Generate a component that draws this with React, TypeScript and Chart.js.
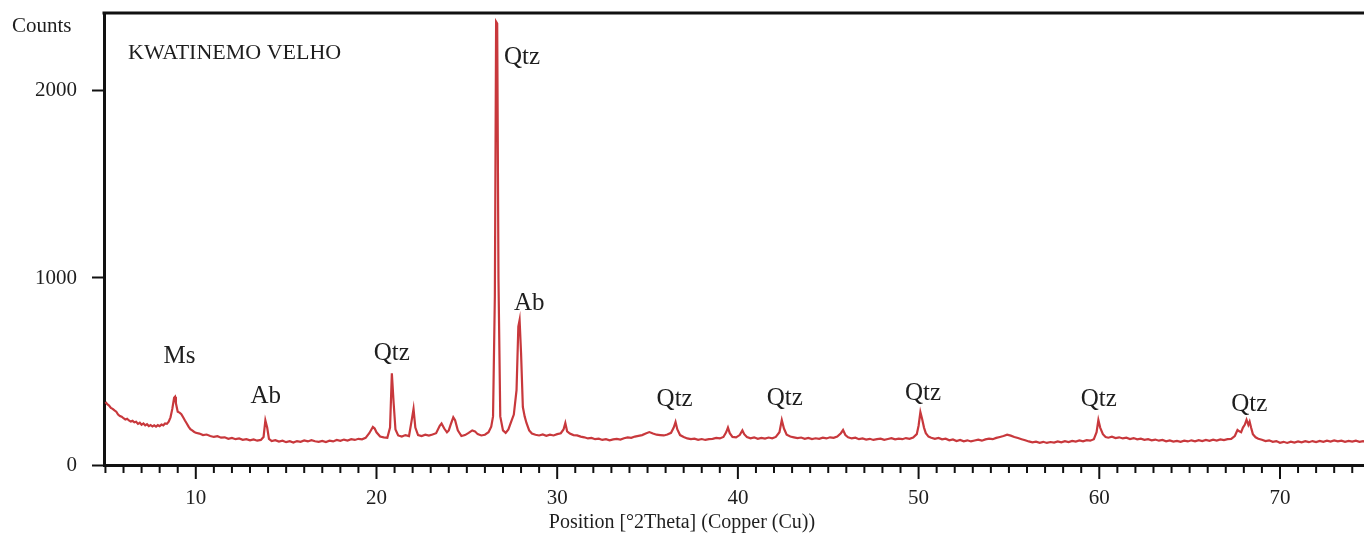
import React, { useEffect, useRef } from "react";
import { Chart, registerables } from "chart.js";

Chart.register(...registerables);

// Diffraction scan: [2Theta (deg), counts]
const scanLow: [number, number][] = [
  [5.0, 337], [5.1, 325], [5.2, 318], [5.3, 305], [5.4, 300], [5.5, 292], [5.6, 285], [5.7, 270], [5.8, 262], [5.9, 258],
  [6.0, 250], [6.1, 243], [6.2, 247], [6.3, 238], [6.4, 232], [6.5, 236], [6.6, 228], [6.7, 231], [6.8, 220], [6.9, 226],
  [7.0, 215], [7.1, 222], [7.2, 212], [7.3, 218], [7.4, 208], [7.5, 214], [7.6, 206], [7.7, 212], [7.8, 205], [7.9, 213],
  [8.0, 208], [8.1, 216], [8.2, 212], [8.3, 222], [8.4, 220], [8.5, 232], [8.6, 255], [8.7, 300], [8.8, 360], [8.85, 365],
  [8.9, 330], [9.0, 285], [9.1, 280], [9.2, 272], [9.3, 255], [9.4, 238], [9.5, 222], [9.6, 205], [9.7, 192], [9.8, 185],
  [9.9, 178], [10.0, 172], [10.2, 168], [10.4, 160], [10.6, 163], [10.8, 155], [11.0, 150], [11.2, 154], [11.4, 146],
  [11.6, 148], [11.8, 140], [12.0, 145], [12.2, 138], [12.4, 142], [12.6, 135], [12.8, 138], [13.0, 132], [13.2, 137],
  [13.4, 130], [13.6, 134], [13.75, 150], [13.85, 238], [13.95, 200], [14.05, 140], [14.2, 128], [14.4, 133], [14.6, 125],
  [14.8, 130], [15.0, 122], [15.2, 127], [15.4, 120], [15.6, 128], [15.8, 124], [16.0, 131], [16.2, 126], [16.4, 133],
  [16.6, 127], [16.8, 124], [17.0, 129], [17.2, 123], [17.4, 130], [17.6, 126], [17.8, 134], [18.0, 129], [18.2, 136],
  [18.4, 131], [18.6, 138], [18.8, 134], [19.0, 140], [19.2, 137], [19.4, 145], [19.6, 170], [19.8, 203], [19.9, 195],
];

const scanMid: [number, number][] = [
  [20.0, 175], [20.2, 152], [20.4, 148], [20.6, 145], [20.75, 200], [20.85, 490], [20.95, 330], [21.05, 190], [21.2, 158],
  [21.4, 152], [21.6, 160], [21.8, 155], [21.95, 240], [22.05, 300], [22.15, 200], [22.3, 160], [22.5, 155], [22.7, 162],
  [22.9, 157], [23.1, 163], [23.3, 170], [23.5, 210], [23.6, 222], [23.75, 195], [23.9, 175], [24.0, 185], [24.1, 215],
  [24.25, 255], [24.35, 240], [24.5, 185], [24.7, 155], [24.9, 160], [25.1, 172], [25.3, 185], [25.45, 180], [25.6, 165],
  [25.8, 158], [26.0, 162], [26.2, 175], [26.35, 205], [26.45, 260], [26.55, 900], [26.62, 2370], [26.68, 2360],
  [26.75, 1000], [26.85, 260], [27.0, 185], [27.15, 172], [27.3, 190], [27.45, 230], [27.6, 270], [27.75, 400],
  [27.85, 740], [27.92, 775], [28.0, 600], [28.1, 310], [28.2, 260], [28.3, 225], [28.45, 185], [28.6, 168], [28.8, 162],
  [29.0, 158], [29.2, 163], [29.4, 156], [29.6, 162], [29.8, 158], [30.0, 165], [30.2, 170], [30.35, 190], [30.45, 224],
  [30.55, 180], [30.7, 168], [30.9, 160], [31.1, 158], [31.3, 152], [31.5, 148], [31.7, 142], [31.9, 145], [32.1, 138],
  [32.3, 141], [32.5, 134], [32.7, 138], [32.9, 132], [33.1, 137], [33.3, 140], [33.5, 136], [33.7, 143], [33.9, 148],
  [34.1, 145], [34.3, 152], [34.5, 156], [34.7, 160], [34.9, 168], [35.1, 176], [35.3, 168], [35.5, 162], [35.7, 160],
  [35.9, 158], [36.1, 163], [36.3, 172], [36.45, 200], [36.55, 230], [36.65, 190], [36.8, 160], [37.0, 150], [37.2, 142],
  [37.4, 138], [37.6, 141], [37.8, 135], [38.0, 139], [38.2, 134], [38.4, 138], [38.6, 140], [38.8, 145], [39.0, 142],
  [39.2, 150], [39.35, 175], [39.45, 200], [39.55, 170], [39.7, 150], [39.9, 148],
];

const scanHigh: [number, number][] = [
  [40.1, 160], [40.25, 185], [40.35, 165], [40.5, 150], [40.7, 143], [40.9, 148], [41.1, 140], [41.3, 145], [41.5, 141],
  [41.7, 147], [41.9, 143], [42.1, 150], [42.3, 175], [42.43, 240], [42.55, 195], [42.7, 162], [42.9, 152], [43.1, 148],
  [43.3, 144], [43.5, 147], [43.7, 140], [43.9, 145], [44.1, 139], [44.3, 143], [44.5, 140], [44.7, 146], [44.9, 142],
  [45.1, 148], [45.3, 145], [45.5, 152], [45.7, 170], [45.82, 187], [45.95, 160], [46.1, 148], [46.3, 142], [46.5, 146],
  [46.7, 138], [46.9, 142], [47.1, 136], [47.3, 140], [47.5, 134], [47.7, 138], [47.9, 141], [48.1, 135], [48.3, 139],
  [48.5, 143], [48.7, 137], [48.9, 141], [49.1, 138], [49.3, 144], [49.5, 140], [49.7, 147], [49.9, 165], [50.0, 210],
  [50.1, 283], [50.2, 245], [50.3, 200], [50.4, 170], [50.55, 152], [50.7, 146], [50.9, 140], [51.1, 145], [51.3, 137],
  [51.5, 141], [51.7, 132], [51.9, 137], [52.1, 128], [52.3, 134], [52.5, 127], [52.7, 132], [52.9, 126], [53.1, 131],
  [53.3, 135], [53.5, 130], [53.7, 137], [53.9, 141], [54.1, 138], [54.3, 145], [54.5, 150], [54.7, 155], [54.9, 162],
  [55.1, 157], [55.3, 150], [55.5, 144], [55.7, 138], [55.9, 132], [56.1, 126], [56.3, 121], [56.5, 125], [56.7, 119],
  [56.9, 124], [57.1, 118], [57.3, 123], [57.5, 120], [57.7, 126], [57.9, 121],
];

const scanTail: [number, number][] = [
  [58.1, 127], [58.3, 123], [58.5, 129], [58.7, 125], [58.9, 131], [59.1, 127], [59.3, 133], [59.5, 130], [59.7, 138],
  [59.85, 175], [59.95, 240], [60.05, 200], [60.2, 165], [60.35, 150], [60.5, 146], [60.7, 151], [60.9, 144], [61.1, 148],
  [61.3, 142], [61.5, 146], [61.7, 139], [61.9, 144], [62.1, 137], [62.3, 141], [62.5, 135], [62.7, 138], [62.9, 132],
  [63.1, 136], [63.3, 130], [63.5, 134], [63.7, 127], [63.9, 131], [64.1, 125], [64.3, 129], [64.5, 124], [64.7, 130],
  [64.9, 126], [65.1, 132], [65.3, 127], [65.5, 133], [65.7, 128], [65.9, 134], [66.1, 129], [66.3, 135], [66.5, 131],
  [66.7, 137], [66.9, 133], [67.1, 138], [67.3, 140], [67.5, 155], [67.65, 187], [67.75, 180], [67.85, 175], [67.95, 200],
  [68.05, 215], [68.15, 242], [68.25, 215], [68.32, 232], [68.4, 200], [68.5, 165], [68.65, 148], [68.8, 140], [69.0, 135],
  [69.2, 128], [69.4, 132], [69.6, 124], [69.8, 128], [70.0, 119], [70.2, 124], [70.4, 118], [70.6, 125], [70.8, 120],
  [71.0, 126], [71.2, 121], [71.4, 127], [71.6, 122], [71.8, 128], [72.0, 123], [72.2, 129], [72.4, 124], [72.6, 130],
  [72.8, 125], [73.0, 131], [73.2, 126], [73.4, 130], [73.6, 124], [73.8, 129], [74.0, 125], [74.2, 130], [74.4, 124],
  [74.6, 128], [74.8, 123],
];

// Phase labels and where they sit (2Theta, counts)
const phaseLabels = ["Ms", "Ab", "Qtz", "Qtz", "Ab", "Qtz", "Qtz", "Qtz", "Qtz", "Qtz"];
const phaseTheta = [9.1, 13.87, 20.85, 28.05, 28.45, 36.5, 42.6, 50.25, 59.97, 68.3];
const phaseCounts = [578, 364, 599, 2180, 866, 348, 358, 382, 352, 325];

const yTicks = [0, 1000, 2000];
const xMin = 4.92;
const xMax = 74.65;
const yMax = 2417;

const sampleName = "KWATINEMO VELHO";
const yAxisName = "Counts";
const xAxisName = "Position [°2Theta] (Copper (Cu))";

const SERIF = "'Liberation Serif', 'Times New Roman', serif";
const INK = "#1e1e1e";

export default function App() {
  const ref = useRef<HTMLCanvasElement | null>(null);

  useEffect(() => {
    document.body.style.margin = "0";
    const canvas = ref.current;
    if (!canvas) return;

    const decorations = {
      id: "decorations",
      afterDraw(chart: any) {
        const { ctx, chartArea, scales } = chart;
        const xs = scales.x;
        const ys = scales.y;
        ctx.save();
        // top frame line
        ctx.strokeStyle = "#111";
        ctx.lineWidth = 3;
        ctx.beginPath();
        ctx.moveTo(chartArea.left - 1.5, chartArea.top);
        ctx.lineTo(chartArea.right, chartArea.top);
        ctx.stroke();
        // x ticks: major every 10, minor every 1
        ctx.lineWidth = 2;
        for (const t of xs.ticks) {
          const px = xs.getPixelForValue(t.value);
          const major = Math.abs(t.value % 10) < 1e-6;
          ctx.beginPath();
          ctx.moveTo(px, chartArea.bottom);
          ctx.lineTo(px, chartArea.bottom + (major ? 14 : 8));
          ctx.stroke();
        }
        // axis captions
        ctx.fillStyle = INK;
        ctx.textBaseline = "middle";
        ctx.textAlign = "left";
        ctx.font = `21px ${SERIF}`;
        ctx.fillText(yAxisName, 12, 26);
        ctx.font = `22px ${SERIF}`;
        ctx.fillText(sampleName, chartArea.left + 24, chartArea.top + 40);
        // phase labels
        ctx.textAlign = "center";
        ctx.font = `25px ${SERIF}`;
        phaseLabels.forEach((lab, i) => {
          ctx.fillText(lab, xs.getPixelForValue(phaseTheta[i]), ys.getPixelForValue(phaseCounts[i]));
        });
        ctx.restore();
      },
    };

    const chart = new Chart(canvas, {
      type: "line",
      data: {
        datasets: [
          {
            data: [...scanLow, ...scanMid, ...scanHigh, ...scanTail].map(([x, y]) => ({ x, y })),
            borderColor: "#c8383c",
            borderWidth: 2.2,
            pointRadius: 0,
            tension: 0,
            fill: false,
          },
        ],
      },
      options: {
        animation: false,
        responsive: false,
        layout: { padding: { top: 13, left: 0, right: 0, bottom: 0 } },
        plugins: {
          legend: { display: false },
          tooltip: { enabled: false },
          title: {
            display: true,
            position: "bottom",
            text: xAxisName,
            color: INK,
            font: { family: SERIF, size: 20, weight: "normal" },
            padding: { top: 0, bottom: 3 },
          },
        },
        scales: {
          x: {
            type: "linear",
            min: xMin,
            max: xMax,
            afterFit: (s: any) => {
              s.height = 46;
              s.paddingLeft = 0;
              s.paddingRight = 0;
            },
            afterBuildTicks: (s: any) => {
              const list: { value: number }[] = [];
              for (let v = 5; v <= 74; v++) list.push({ value: v });
              s.ticks = list;
            },
            grid: { display: true, drawOnChartArea: false, drawTicks: false },
            border: { display: true, color: "#111", width: 3 },
            ticks: {
              autoSkip: false,
              maxRotation: 0,
              padding: 21,
              color: INK,
              font: { family: SERIF, size: 21 },
              callback: (v: any) => (Math.abs(Number(v) % 10) < 1e-6 ? String(v) : ""),
            },
          },
          y: {
            type: "linear",
            min: 0,
            max: yMax,
            afterFit: (s: any) => {
              s.width = 104;
              s.paddingTop = 0;
              s.paddingBottom = 0;
            },
            afterBuildTicks: (s: any) => {
              s.ticks = yTicks.map((v) => ({ value: v }));
            },
            grid: { display: true, drawOnChartArea: false, drawTicks: true, tickLength: 12, tickColor: "#111", tickWidth: 2 },
            border: { display: true, color: "#111", width: 3 },
            ticks: {
              padding: 15,
              color: INK,
              font: { family: SERIF, size: 21 },
              callback: (v: any) => String(v),
            },
          },
        },
      },
      plugins: [decorations],
    });

    return () => chart.destroy();
  }, []);

  return <canvas ref={ref} width={1364} height={538} style={{ display: "block" }} />;
}
